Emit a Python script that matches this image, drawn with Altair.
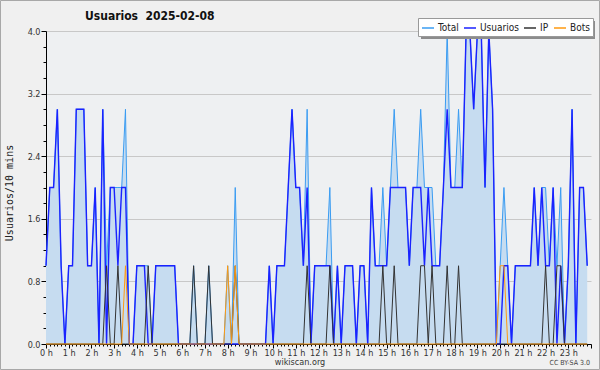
import altair as alt
import pandas as pd

# ---- data: one value per 10 minutes (144 slots) ----
usuarios = [
    1, 2, 2, 3, 1, 0,   # 0 h
    1, 1, 3, 3, 3, 1,   # 1 h
    1, 2, 0, 3, 0, 2,   # 2 h
    2, 1, 2, 2, 0, 0,   # 3 h
    1, 1, 1, 0, 0, 1,   # 4 h
    1, 1, 1, 1, 1, 0,   # 5 h
    0, 0, 0, 0, 0, 0,   # 6 h
    0, 0, 0, 0, 0, 0,   # 7 h
    0, 0, 0, 0, 0, 0,   # 8 h
    0, 0, 0, 0, 0, 1,   # 9 h
    0, 1, 1, 1, 2, 3,   # 10 h
    2, 2, 1, 2, 0, 1,   # 11 h
    1, 1, 1, 1, 0, 1,   # 12 h
    0, 1, 1, 1, 0, 1,   # 13 h
    1, 0, 2, 1, 1, 1,   # 14 h
    1, 2, 2, 2, 2, 2,   # 15 h
    1, 2, 2, 2, 1, 2,   # 16 h
    1, 1, 1, 2, 3, 2,   # 17 h
    2, 2, 2, 4, 4, 3,   # 18 h
    4, 4, 2, 4, 3, 0,   # 19 h
    0, 1, 1, 0, 1, 1,   # 20 h
    1, 1, 1, 2, 1, 2,   # 21 h
    1, 1, 2, 0, 1, 0,   # 22 h
    1, 3, 0, 2, 2, 1,   # 23 h
]
ip = [
    0, 0, 0, 0, 0, 0,
    0, 0, 0, 0, 0, 0,
    0, 0, 0, 0, 1, 0,
    0, 1, 0, 0, 0, 0,
    0, 0, 0, 1, 0, 0,
    0, 0, 0, 0, 0, 0,
    0, 0, 0, 1, 0, 0,
    0, 1, 0, 0, 0, 0,
    0, 0, 1, 0, 0, 0,
    0, 0, 0, 0, 0, 0,
    0, 0, 0, 0, 0, 0,
    0, 0, 0, 1, 0, 0,
    0, 0, 0, 1, 0, 0,
    0, 0, 0, 0, 0, 0,
    0, 0, 0, 0, 0, 1,
    0, 0, 1, 0, 0, 0,
    0, 0, 0, 1, 1, 0,
    1, 0, 0, 0, 1, 0,
    0, 1, 0, 0, 0, 0,
    0, 0, 0, 0, 0, 0,
    0, 0, 0, 0, 0, 0,
    0, 0, 0, 0, 0, 0,
    1, 0, 0, 1, 1, 0,
    0, 0, 0, 0, 0, 0,
]
bots = [
    0, 0, 0, 0, 0, 0,
    0, 0, 0, 0, 0, 0,
    0, 0, 0, 0, 0, 0,
    0, 0, 0, 1, 0, 0,
    0, 0, 0, 0, 0, 0,
    0, 0, 0, 0, 0, 0,
    0, 0, 0, 0, 0, 0,
    0, 0, 0, 0, 0, 0,
    1, 0, 1, 0, 0, 0,
    0, 0, 0, 0, 0, 0,
    0, 0, 0, 0, 0, 0,
    0, 0, 0, 0, 0, 0,
    0, 0, 0, 0, 0, 0,
    0, 0, 0, 0, 0, 0,
    0, 0, 0, 0, 0, 0,
    0, 0, 0, 0, 0, 0,
    0, 0, 0, 0, 0, 0,
    0, 0, 0, 0, 0, 0,
    0, 0, 0, 0, 0, 0,
    0, 0, 0, 0, 0, 0,
    1, 1, 0, 0, 0, 0,
    0, 0, 0, 0, 0, 0,
    0, 0, 0, 0, 0, 0,
    0, 0, 0, 0, 0, 0,
]
total = [
    1, 2, 2, 3, 1, 0,
    1, 1, 3, 3, 3, 1,
    1, 2, 0, 3, 1, 2,
    2, 2, 2, 3, 0, 0,
    1, 1, 1, 1, 0, 1,
    1, 1, 1, 1, 1, 0,
    0, 0, 0, 1, 0, 0,
    0, 1, 0, 0, 0, 0,
    1, 0, 2, 0, 0, 0,
    0, 0, 0, 0, 0, 1,
    0, 1, 1, 1, 2, 3,
    2, 2, 1, 3, 0, 1,
    1, 1, 1, 2, 0, 1,
    0, 1, 1, 1, 0, 1,
    1, 0, 2, 1, 1, 2,
    1, 2, 3, 2, 2, 2,
    1, 2, 2, 3, 2, 2,
    2, 1, 1, 2, 4, 2,
    2, 3, 2, 4, 4, 3,
    4, 4, 2, 4, 3, 0,
    1, 2, 1, 0, 1, 1,
    1, 1, 1, 2, 1, 2,
    2, 1, 2, 1, 2, 0,
    1, 3, 0, 2, 2, 1,
]
series_names = ["Total", "Usuarios", "IP", "Bots"]
series_colors = ["#3a9cf2", "#1a22ff", "#333333", "#ff9a10"]
series_widths = [1.0, 1.4, 1.0, 1.0]
y_ticks = [round(0.2 * k, 1) for k in range(21)]
x_ticks = list(range(0, 1441, 10))

minutes = [10 * i for i in range(len(usuarios))]
wide = pd.DataFrame({"min": minutes, "Total": total, "Usuarios": usuarios,
                     "IP": ip, "Bots": bots})
long = wide.melt("min", var_name="serie", value_name="v")

FONT = "DejaVu Sans Condensed, Liberation Sans Narrow, DejaVu Sans, sans-serif"
MONO = "DejaVu Sans Mono, monospace"

ytest = "abs(datum.value/0.8 - round(datum.value/0.8)) < 0.01"
xtest = "datum.value % 60 == 0"

xscale = alt.Scale(domain=[0, 1440], nice=False, zero=False)
yscale = alt.Scale(domain=[0, 4], nice=False, zero=True)

xaxis = alt.Axis(
    values=x_ticks, title=None, grid=False,
    labelExpr=f"({xtest}) && datum.value < 1440 ? (datum.value/60) + ' h' : ''",
    tickSize={"condition": {"test": xtest, "value": 4}, "value": 2},
    labelFont=FONT, labelFontSize=9, labelColor="#333333",
    domainColor="#000000", tickColor="#000000", labelOverlap=False,
    labelFlush=False, labelPadding=0, labelAngle=0, labelBound=False,
)
yaxis = alt.Axis(
    values=y_ticks, title=None, grid=True, gridColor="#c8c8c8",
    gridOpacity={"condition": {"test": ytest, "value": 1}, "value": 0},
    labelExpr=f"({ytest}) ? format(datum.value, '.1f') : ''",
    tickSize={"condition": {"test": ytest, "value": 5}, "value": 3},
    labelFont=FONT, labelFontSize=9, labelColor="#333333",
    domainColor="#000000", tickColor="#000000", labelOverlap=False,
    labelFlush=False, labelPadding=1, labelBound=False,
)

one = pd.DataFrame({"k": [0]})

border = alt.Chart(one).mark_rect(fill="#f0f0f0", fillOpacity=0, stroke="#a8a8a8",
                                  strokeWidth=1).encode(
    x=alt.value(-45.5), x2=alt.value(553.5), y=alt.value(-30.5), y2=alt.value(338.5))

area = alt.Chart(wide).mark_area(color="#c6dcf0", opacity=1).encode(
    x=alt.X("min:Q", scale=xscale, axis=xaxis),
    y=alt.Y("Total:Q", scale=yscale, axis=yaxis),
)

color = alt.Color("serie:N", scale=alt.Scale(domain=series_names, range=series_colors),
                  legend=alt.Legend(
                      orient="none", legendX=372, legendY=-13, direction="horizontal",
                      title=None, symbolType="stroke", symbolSize=144,
                      symbolStrokeWidth=1.5, labelFont=FONT, labelFontSize=10,
                      labelColor="#222222", fillColor="#ffffff", strokeColor="#999999",
                      padding=3, columnPadding=2, labelOffset=3, symbolOffset=0,
                      columns=4))

line_layers = []
for name, w in zip(series_names, series_widths):
    line_layers.append(
        alt.Chart(long).transform_filter(alt.datum.serie == name)
        .mark_line(strokeWidth=w, interpolate="linear")
        .encode(x=alt.X("min:Q", scale=xscale, axis=xaxis),
                y=alt.Y("v:Q", scale=yscale, axis=yaxis), color=color)
    )

shadow = alt.Chart(one).mark_rect(color="#8c8c8c").encode(
    x=alt.value(375), x2=alt.value(549), y=alt.value(-10), y2=alt.value(8))

title = alt.Chart(one).mark_text(text="Usuarios\u00a0\u00a02025-02-08", font=FONT,
                                 fontSize=12, fontWeight="bold", align="left",
                                 baseline="middle", color="#111111").encode(
    x=alt.value(39), y=alt.value(-15))
ytitle = alt.Chart(one).mark_text(text="Usuarios/10 mins", font=MONO, fontSize=10,
                                  angle=270, align="center", baseline="middle",
                                  color="#222222").encode(
    x=alt.value(-36), y=alt.value(162))
site = alt.Chart(one).mark_text(text="wikiscan.org", font=FONT, fontSize=9,
                                align="center", baseline="middle", color="#333333").encode(
    x=alt.value(254), y=alt.value(331))
lic = alt.Chart(one).mark_text(text="CC BY-SA 3.0", font=FONT, fontSize=7,
                               align="right", baseline="middle", color="#444444").encode(
    x=alt.value(544), y=alt.value(332))

chart = alt.layer(border, area, *line_layers, shadow, title, ytitle, site, lic).properties(
    width=545, height=313,
    padding={"left": 46, "top": 31, "right": 9, "bottom": 26},
    autosize=alt.AutoSizeParams(type="none"),
    background="#f0f0f0",
).configure_view(fill="#eef0f2", stroke=None)

chart.save("out.html", embed_options={"renderer": "svg", "actions": False})
